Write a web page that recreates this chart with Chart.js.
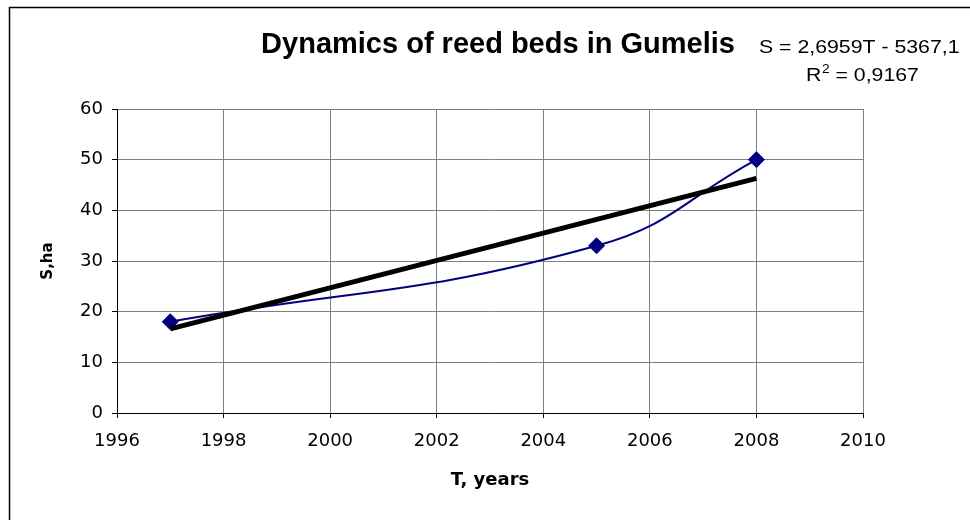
<!DOCTYPE html>
<html lang="en">
<head>
    <meta charset="UTF-8">
    <title>Dynamics of reed beds in Gumelis</title>
    <script src="https://cdn.jsdelivr.net/npm/chart.js"></script>
    <style>
        body {
            margin: 0;
            background: #ffffff;
        }
        canvas {
            display: block;
        }
    </style>
</head>
<body>

<canvas id="myChart" width="970" height="520"></canvas>

<script>
    // observed reed bed area
    const years = [1997, 2005, 2008];
    const area = [18, 33, 50];

    // linear trend S = 2,6959T - 5367,1 (end values)
    const trendYears = [1997, 2008];
    const trendArea = [16.6, 46.3];

    const xTicks = [1996, 1998, 2000, 2002, 2004, 2006, 2008, 2010];
    const yTicks = [0, 10, 20, 30, 40, 50, 60];

    const chartTitle = 'Dynamics of reed beds in Gumelis';
    const equation = 'S = 2,6959T - 5367,1';
    const rSquared = '0,9167';

    const ARIAL = 'Arial, "Liberation Sans", sans-serif';
    const WIDE = '"DejaVu Sans", Verdana, sans-serif';
    const STRETCH = 1.15; // the equation text is a bit wider than plain Arial

    // frame, title and trend equation like the Excel original
    const decor = {
        id: 'decor',
        afterDraw(chart) {
            const c = chart.ctx;
            c.save();
            c.strokeStyle = '#000';
            c.lineWidth = 1.5;
            c.strokeRect(9.5, 7.5, 980, 530);

            c.fillStyle = '#000';
            c.textBaseline = 'alphabetic';

            c.textAlign = 'center';
            c.font = 'bold 29px ' + ARIAL;
            c.fillText(chartTitle, 498, 53);

            c.scale(STRETCH, 1);
            c.textAlign = 'left';
            c.font = '18.5px ' + ARIAL;
            c.fillText(equation, 759 / STRETCH, 53);
            let x = 806 / STRETCH;
            c.fillText('R', x, 81);
            x += c.measureText('R').width + 0.5;
            c.font = '12px ' + ARIAL;
            c.fillText('2', x, 73);
            x += c.measureText('2').width;
            c.font = '18.5px ' + ARIAL;
            c.fillText(' = ' + rSquared, x, 81);
            c.restore();
        }
    };

    const tickFont = { family: WIDE, size: 18 };

    const ctx = document.getElementById('myChart').getContext('2d');
    const myChart = new Chart(ctx, {
        type: 'line',
        data: {
            datasets: [{
                label: 'Trend',
                data: trendYears.map((t, i) => ({ x: t, y: trendArea[i] })),
                borderColor: '#000000',
                borderWidth: 5,
                pointRadius: 0,
                tension: 0,
                order: 0
            }, {
                label: 'S',
                data: years.map((t, i) => ({ x: t, y: area[i] })),
                borderColor: '#000080',
                backgroundColor: '#000080',
                borderWidth: 2,
                pointStyle: 'rectRot',
                pointRadius: 8,
                pointBorderWidth: 1,
                tension: 0.45,
                order: 1
            }]
        },
        options: {
            responsive: false,
            animation: false,
            layout: {
                padding: { top: 109, right: 107, bottom: 0, left: 0 }
            },
            scales: {
                x: {
                    type: 'linear',
                    min: 1996,
                    max: 2010,
                    afterBuildTicks: axis => { axis.ticks = xTicks.map(v => ({ value: v })); },
                    afterFit: axis => { axis.height = 107; },
                    ticks: {
                        color: '#000',
                        font: tickFont,
                        padding: 13,
                        maxRotation: 0,
                        callback: v => String(v)
                    },
                    grid: {
                        color: '#808080',
                        tickColor: '#000',
                        tickLength: 5,
                        lineWidth: 1
                    },
                    border: { color: '#000', width: 1 },
                    title: {
                        display: true,
                        text: 'T, years',
                        color: '#000',
                        font: { family: WIDE, size: 18, weight: 'bold' },
                        padding: { top: 0, bottom: 29 }
                    }
                },
                y: {
                    min: 0,
                    max: 60,
                    afterBuildTicks: axis => { axis.ticks = yTicks.map(v => ({ value: v })); },
                    afterFit: axis => { axis.width = 117; },
                    ticks: {
                        color: '#000',
                        font: tickFont,
                        padding: 9
                    },
                    grid: {
                        color: '#808080',
                        tickColor: '#000',
                        tickLength: 5,
                        lineWidth: 1
                    },
                    border: { color: '#000', width: 1 },
                    title: {
                        display: true,
                        text: 'S,ha',
                        color: '#000',
                        font: { family: WIDE, size: 15, weight: 'bold' },
                        padding: { top: 39, bottom: 0 }
                    }
                }
            },
            plugins: {
                legend: { display: false },
                tooltip: { enabled: false }
            }
        },
        plugins: [decor]
    });
</script>

</body>
</html>
